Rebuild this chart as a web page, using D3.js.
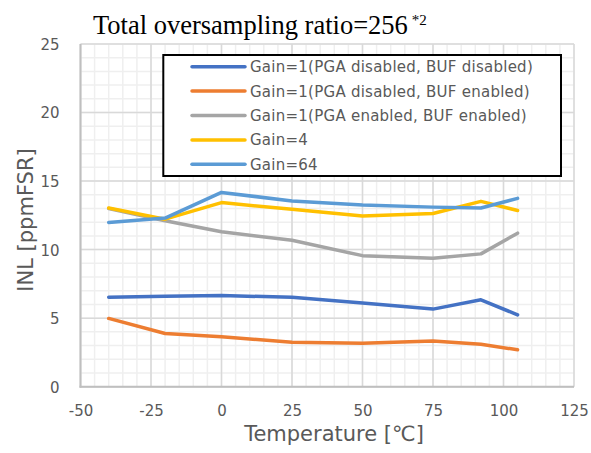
<!DOCTYPE html>
<html>
<head>
<meta charset="utf-8">
<script src="https://cdn.jsdelivr.net/npm/d3@7"></script>
<style>
  html, body { margin: 0; padding: 0; background: #fff; }
  svg { display: block; }
</style>
</head>
<body>
<svg id="chart" width="591" height="453"></svg>
<script>
// ---- data ----
const temperatures = [-40, -20, 0, 25, 50, 75, 92, 105];
const seriesNames = [
  "Gain=1(PGA disabled, BUF disabled)",
  "Gain=1(PGA disabled, BUF enabled)",
  "Gain=1(PGA enabled, BUF enabled)",
  "Gain=4",
  "Gain=64"
];
const gain1PgaOffBufOff = [6.52, 6.60, 6.65, 6.52, 6.10, 5.66, 6.34, 5.24];
const gain1PgaOffBufOn  = [4.98, 3.88, 3.64, 3.24, 3.17, 3.33, 3.10, 2.69];
const gain1PgaOnBufOn   = [13.00, 12.10, 11.30, 10.68, 9.56, 9.37, 9.69, 11.20];
const gain4             = [13.04, 12.22, 13.43, 12.94, 12.45, 12.63, 13.52, 12.85];
const gain64            = [11.98, 12.30, 14.17, 13.55, 13.25, 13.10, 13.04, 13.74];
const seriesColors = ["#4472C4", "#ED7D31", "#A5A5A5", "#FFC000", "#5B9BD5"];
const xTicks = [-50, -25, 0, 25, 50, 75, 100, 125];
const yTicks = [0, 5, 10, 15, 20, 25];
const titleText = "Total oversampling ratio=256";
const titleSup = "*2";
const xTitle = "Temperature [℃]";
const yTitle = "INL [ppmFSR]";

const allSeries = [gain1PgaOffBufOff, gain1PgaOffBufOn, gain1PgaOnBufOn, gain4, gain64];

// ---- layout ----
const svg = d3.select("#chart");
const L = 80.5, R = 574, T = 44, B = 386.7;
const x = d3.scaleLinear().domain([-50, 125]).range([L, R]);
const y = d3.scaleLinear().domain([0, 25]).range([B, T]);

// minor grid
const g = svg.append("g");
g.selectAll("line.mx").data(d3.range(-50, 126, 5)).join("line")
  .attr("x1", d => x(d)).attr("x2", d => x(d)).attr("y1", T).attr("y2", B)
  .attr("stroke", "#efefef").attr("stroke-width", 1.5);
g.selectAll("line.my").data(d3.range(0, 26, 1)).join("line")
  .attr("y1", d => y(d)).attr("y2", d => y(d)).attr("x1", L).attr("x2", R)
  .attr("stroke", "#efefef").attr("stroke-width", 1.5);
// major grid
g.selectAll("line.Mx").data(xTicks).join("line")
  .attr("x1", d => x(d)).attr("x2", d => x(d)).attr("y1", T).attr("y2", B)
  .attr("stroke", "#d9d9d9").attr("stroke-width", 1.5);
g.selectAll("line.My").data(yTicks).join("line")
  .attr("y1", d => y(d)).attr("y2", d => y(d)).attr("x1", L).attr("x2", R)
  .attr("stroke", "#d9d9d9").attr("stroke-width", 1.5);

// axes lines
svg.append("line").attr("x1", L).attr("x2", L).attr("y1", T).attr("y2", B + 1)
  .attr("stroke", "#bfbfbf").attr("stroke-width", 2);
svg.append("line").attr("x1", L - 1).attr("x2", R).attr("y1", B).attr("y2", B)
  .attr("stroke", "#bfbfbf").attr("stroke-width", 2);

// tick labels via axes
const font = "DejaVu Sans, Verdana, sans-serif";
const xAxis = svg.append("g").attr("transform", `translate(0,${B})`)
  .call(d3.axisBottom(x).tickValues(xTicks).tickSize(0).tickPadding(0).tickFormat(d => String(d)));
xAxis.select(".domain").remove();
xAxis.selectAll("text").attr("y", 29).attr("dy", null)
  .attr("font-family", font).attr("font-size", 15).attr("fill", "#595959");

const yAxis = svg.append("g").attr("transform", `translate(${L},0)`)
  .call(d3.axisLeft(y).tickValues(yTicks).tickSize(0).tickPadding(0).tickFormat(d => String(d)));
yAxis.select(".domain").remove();
yAxis.selectAll("text").attr("x", -21).attr("dy", "0.36em")
  .attr("font-family", font).attr("font-size", 15).attr("fill", "#595959");

// lines
const line = d3.line().x((d, i) => x(temperatures[i])).y(d => y(d));
svg.append("g").selectAll("path").data(allSeries).join("path")
  .attr("d", d => line(d))
  .attr("fill", "none")
  .attr("stroke", (d, i) => seriesColors[i])
  .attr("stroke-width", 3.5)
  .attr("stroke-linejoin", "round")
  .attr("stroke-linecap", "round");

// legend
const lg = svg.append("g");
lg.append("rect").attr("x", 163.3).attr("y", 55).attr("width", 397.7).attr("height", 121)
  .attr("fill", "#fff").attr("stroke", "#000").attr("stroke-width", 2);
const rowY = d3.scaleLinear().domain([0, 4]).range([66.7, 164.3]);
const legendTexts = [];
seriesNames.forEach((name, i) => {
  lg.append("line").attr("x1", 192).attr("x2", 245).attr("y1", rowY(i)).attr("y2", rowY(i))
    .attr("stroke", seriesColors[i]).attr("stroke-width", 3.5).attr("stroke-linecap", "round");
  legendTexts.push(lg.append("text").attr("x", 250).attr("y", rowY(i)).attr("dy", "0.36em")
    .attr("font-family", font).attr("font-size", 15).attr("fill", "#595959").text(name));
});
// widen letter spacing so the first entry spans the same width as the reference
const firstLen = legendTexts[0].node().getComputedTextLength();
const ls = Math.max(0, (283 - firstLen) / seriesNames[0].length);
legendTexts.forEach(t => t.attr("letter-spacing", ls));

// titles
const tt = svg.append("text").attr("x", 93).attr("y", 33.5)
  .attr("font-family", "Liberation Serif, Times New Roman, serif").attr("font-size", 26.5).attr("fill", "#000");
tt.append("tspan").text(titleText);
tt.append("tspan").attr("dx", 4).attr("dy", -9).attr("font-size", 15).text(titleSup);

svg.append("text").attr("x", 334).attr("y", 441).attr("text-anchor", "middle")
  .attr("font-family", font).attr("font-size", 21).attr("fill", "#595959").text(xTitle);
svg.append("text").attr("transform", "translate(33,220) rotate(-90)").attr("text-anchor", "middle")
  .attr("font-family", font).attr("font-size", 21).attr("fill", "#595959").text(yTitle);
</script>
</body>
</html>
